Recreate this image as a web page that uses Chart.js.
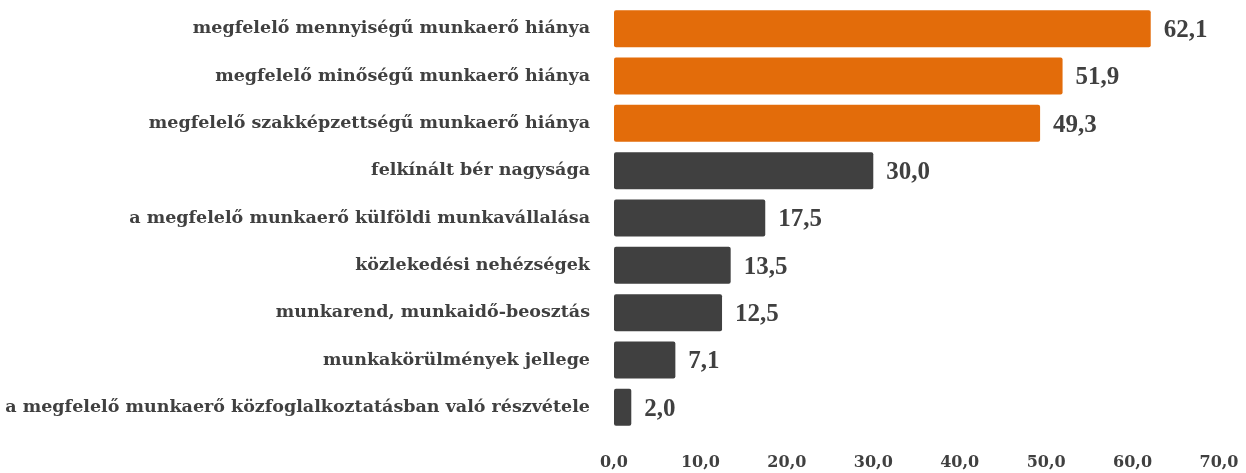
<!DOCTYPE html>
<html>
<head>
<meta charset="utf-8">
<script src="https://cdn.jsdelivr.net/npm/chart.js@4/dist/chart.umd.min.js"></script>
<style>
	html, body { margin:0; padding:0; background:#fff; }
	#wrap { position:relative; width:1246px; height:473px; }
</style>
</head>
<body>
<div id="wrap"><canvas id="chart"></canvas></div>
<script>
// kategóriák, fentről lefelé
var categories = [
	"megfelelő mennyiségű munkaerő hiánya",
	"megfelelő minőségű munkaerő hiánya",
	"megfelelő szakképzettségű munkaerő hiánya",
	"felkínált bér nagysága",
	"a megfelelő munkaerő külföldi munkavállalása",
	"közlekedési nehézségek",
	"munkarend, munkaidő-beosztás",
	"munkakörülmények jellege",
	"a megfelelő munkaerő közfoglalkoztatásban való részvétele"
];
var values = [62.1, 51.9, 49.3, 30.0, 17.5, 13.5, 12.5, 7.1, 2.0];
// az első három kiemelve
var highlighted = [true, true, true, false, false, false, false, false, false];
var xTicks = [0, 10, 20, 30, 40, 50, 60, 70];

var ORANGE = "#e36c0a",
	GREY   = "#404040",
	SERIF  = "'Liberation Serif', serif",
	WIDE   = "'DejaVu Serif', serif";

function fmt(v){ return v.toFixed(1).replace(".", ","); }

// a tengelyek ne toljak be a rajzterületet a tick padding miatt
function noPadding(scale){
	scale.paddingTop = scale.paddingBottom = 0;
	scale.paddingLeft = scale.paddingRight = 0;
}

// érték felirat a bar végére
var valueLabels = {
	id : "valueLabels",
	afterDatasetsDraw : function(chart){
		var ctx = chart.ctx,
			meta = chart.getDatasetMeta(0);
		ctx.save();
		ctx.font = "bold 25px " + SERIF;
		ctx.fillStyle = GREY;
		ctx.textAlign = "left";
		ctx.textBaseline = "middle";
		meta.data.forEach(function(bar, i){
			ctx.fillText(fmt(values[i]), bar.x + 13, bar.y + 2);
		});
		ctx.restore();
	}
};

new Chart(document.getElementById("chart"), {
	type : "bar",
	data : {
		labels : categories,
		datasets : [{
			data : values,
			backgroundColor : highlighted.map(function(h){ return h ? ORANGE : GREY; }),
			borderWidth : 0,
			borderRadius : 2,
			borderSkipped : false,
			categoryPercentage : 1,
			barPercentage : 0.78
		}]
	},
	options : {
		indexAxis : "y",
		responsive : true,
		maintainAspectRatio : false,
		animation : false,
		layout : { autoPadding:false, padding : { top:5, right:27, bottom:0, left:0 } },
		plugins : { legend:{ display:false }, tooltip:{ enabled:false } },
		scales : {
			x : {
				min : 0, max : 70,
				afterBuildTicks : function(scale){
					scale.ticks = xTicks.map(function(v){ return { value:v }; });
				},
				// csak egyszer számoljon a paddinggel
				afterFit : function(scale){
					scale.height = 42;
					noPadding(scale);
				},
				grid : { display:false, drawTicks:false },
				border : { display:false },
				ticks : {
					padding : 22,
					color : GREY,
					font : { family:WIDE, size:16, weight:"bold" },
					callback : function(v){ return fmt(v); }
				}
			},
			y : {
				afterFit : function(scale){
					scale.width = 614;
					noPadding(scale);
				},
				grid : { display:false, drawTicks:false },
				border : { display:false },
				ticks : {
					padding : 24,
					color : GREY,
					font : { family:WIDE, size:17.5, weight:"bold" }
				}
			}
		}
	},
	plugins : [valueLabels]
});
</script>
</body>
</html>
